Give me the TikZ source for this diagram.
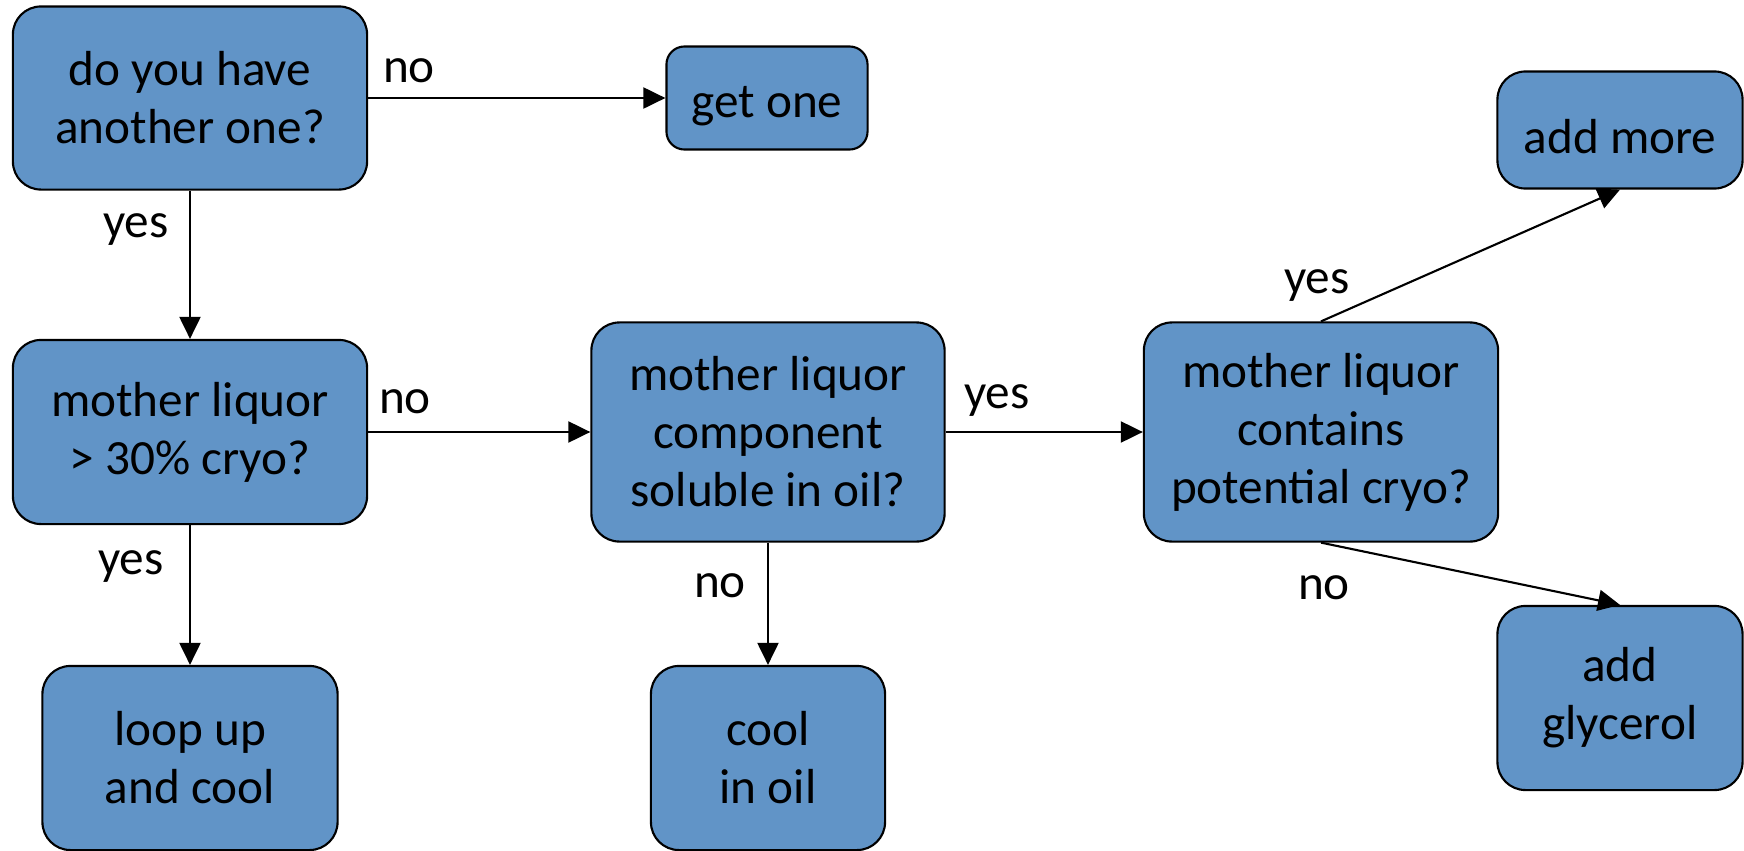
\documentclass[tikz,border=0pt]{standalone}
\usepackage{fontspec}
\setmainfont{Carlito}
\usetikzlibrary{arrows.meta}
\definecolor{boxblue}{RGB}{97,148,199}

\begin{document}
\begin{tikzpicture}[x=0.01cm, y=-0.01cm, line width=0.6pt,
        box/.style={draw, fill=boxblue, rounded corners=0.28cm, align=center, inner sep=0pt, font=\fontsize{14}{16.5}\selectfont, execute at begin node={\rule{0pt}{13.5pt}}},
        lbl/.style={font=\fontsize{14}{16.5}\selectfont, inner sep=0pt},
        arr/.style={-{Triangle[length=2.2mm, width=2.1mm]}}]
        \useasboundingbox (0,0) rectangle (1744,851);

        \node[box, minimum width=3.54cm, minimum height=1.83cm] (have) at (190,98) {do you have\\another one?};
        \node[box, minimum width=2.01cm, minimum height=1.03cm, rounded corners=0.18cm] (getone) at (767,98) {get one};
        \node[box, minimum width=2.45cm, minimum height=1.17cm] (addmore) at (1620,130) {add more};

        \node[box, minimum width=3.54cm, minimum height=1.84cm] (cryo) at (190,432) {mother liquor\\> 30\% cryo?};
        \node[box, minimum width=3.53cm, minimum height=2.19cm] (soluble) at (768,432) {mother liquor\\component\\soluble in oil?};
        \node[box, minimum width=3.54cm, minimum height=2.19cm] (contains) at (1321,432) {mother liquor\\contains\\potential cryo?};

        \node[box, minimum width=2.95cm, minimum height=1.84cm] (loop) at (190,758) {loop up\\and cool};
        \node[box, minimum width=2.34cm, minimum height=1.84cm] (oil) at (768,758) {cool\\in oil};
        \node[box, minimum width=2.45cm, minimum height=1.84cm] (glycerol) at (1620,698) {add\\glycerol};

        \draw[arr] (have) -- (getone);
        \draw[arr] (have) -- (cryo);
        \draw[arr] (cryo) -- (soluble);
        \draw[arr] (soluble) -- (contains);
        \draw[arr] (cryo) -- (loop);
        \draw[arr] (soluble) -- (oil);
        \draw[arr] (contains.north) -- (addmore.south);
        \draw[arr] (contains.south) -- (glycerol.north);

        \node[lbl] (no1) at (409,71) {no};
        \node[lbl] (yes1) at (136,230) {yes};
        \node[lbl] (no2) at (405,402) {no};
        \node[lbl] (yes2) at (131,567) {yes};
        \node[lbl] (yes3) at (997,401) {yes};
        \node[lbl] (no3) at (720,586) {no};
        \node[lbl] (yes4) at (1317,286) {yes};
        \node[lbl] (no4) at (1324,588) {no};
    \end{tikzpicture}
\end{document}
